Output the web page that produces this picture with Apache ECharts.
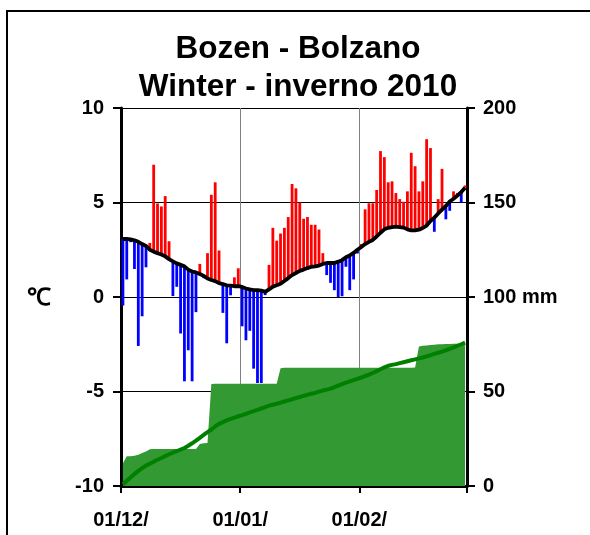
<!DOCTYPE html>
<html><head><meta charset="utf-8">
<script src="https://cdn.jsdelivr.net/npm/echarts@6/dist/echarts.min.js"></script>
<style>html,body{margin:0;padding:0;background:#fff}#c{width:590px;height:535px}</style>
</head><body><div id="c"></div>
<script>
// daily values, day 0 = 1 December 2009, 90 days to end of February 2010
const tempClimate = [
 3.07,3.07,3.05,3.0,2.92,2.8,2.7,2.5,2.4,2.32,
 2.25,2.15,2.0,1.88,1.78,1.7,1.62,1.45,1.35,1.3,
 1.22,1.12,0.98,0.9,0.84,0.73,0.68,0.62,0.6,0.57,
 0.57,0.53,0.45,0.4,0.36,0.36,0.34,0.27,0.4,0.55,
 0.62,0.7,0.85,1.0,1.16,1.27,1.38,1.45,1.53,1.6,
 1.62,1.66,1.75,1.8,1.8,1.8,1.87,1.95,2.1,2.2,
 2.33,2.5,2.65,2.8,2.92,3.02,3.2,3.4,3.58,3.66,
 3.7,3.72,3.7,3.67,3.58,3.52,3.52,3.56,3.65,3.78,
 4.02,4.2,4.42,4.62,4.82,5.05,5.2,5.37,5.55,5.78
];
const tempObserved = [
 -0.45,0.93,2.9,1.48,-2.59,-1.02,1.57,2.86,7.0,4.95,
 4.79,5.34,2.95,0.05,0.54,-1.93,-4.46,-2.82,-4.46,-0.8,
 1.75,1.0,2.32,5.41,6.07,2.46,-0.84,-2.45,0.09,1.04,
 1.52,-1.55,-2.29,-1.79,-3.79,-4.55,-4.55,0.1,1.7,3.66,
 2.98,3.36,3.66,4.23,5.98,5.75,5.0,4.14,4.23,3.82,
 3.82,3.57,2.32,1.16,0.75,0.36,0.0,0.04,1.6,0.36,
 0.93,2.3,2.8,4.64,4.96,4.96,5.66,7.72,7.4,6.07,
 6.12,5.5,5.18,5.04,5.59,7.63,6.92,5.59,6.12,8.35,
 7.88,3.45,5.18,6.78,4.11,4.56,5.59,5.5,5.0,5.9
];
const precipObserved = [
 12,15.7,15.8,16,16.5,17.5,18.2,19.5,19.6,19.6,
 19.6,19.6,19.6,19.6,19.6,19.6,19.6,19.6,19.6,19.6,
 22.2,22.6,22.8,54,54.1,54.1,54.1,54.1,54.1,54.1,
 54.1,54.1,54.1,54.1,54.1,54.1,54.1,54.1,54.1,54.1,
 54.1,62.3,62.6,62.6,62.6,62.6,62.6,62.6,62.6,62.6,
 62.6,62.6,62.6,62.6,62.6,62.6,62.6,62.6,62.6,62.6,
 62.6,62.6,62.6,62.6,62.6,62.6,62.6,62.6,62.6,62.6,
 62.6,62.6,62.6,62.6,62.6,62.6,62.7,73.8,74.2,74.4,
 74.6,74.8,75,75,75.1,75.1,75.2,75.2,75.3,75.3
];
const precipClimate = [
 0.8,2.8,4.5,6.3,8.0,9.5,10.8,11.8,12.8,13.9,
 14.8,15.8,16.8,17.6,18.4,19.3,20.1,21.3,22.6,24.0,
 25.5,27.0,28.5,29.9,31.5,32.9,33.8,34.7,35.5,36.2,
 36.9,37.5,38.2,38.9,39.6,40.3,41.0,41.7,42.5,43.0,
 43.5,44.1,44.7,45.3,45.9,46.5,47.1,47.7,48.3,48.8,
 49.3,49.9,50.5,51.0,51.5,52.3,53.1,53.9,54.7,55.4,
 56.0,56.7,57.4,58.2,58.9,59.8,60.8,61.8,62.8,63.6,
 64.1,64.5,65.0,65.5,66.0,66.5,67.0,67.5,68.0,68.6,
 69.2,69.9,70.5,71.1,71.8,72.5,73.3,74.2,75.0,75.9
];
const xTickDays = [0, 31, 62, 90];
const xTickLabels = ['01/12/', '01/01/', '01/02/', ''];
const tempAxis = {min: -10, max: 10, interval: 5};
const precipAxis = {min: 0, max: 200, interval: 50};

const FONT = '"Liberation Sans", Arial, sans-serif';
const chart = echarts.init(document.getElementById('c'), null, {renderer: 'canvas'});
const lbl = {fontFamily: FONT, fontWeight: 'bold', fontSize: 20, color: '#000'};

chart.setOption({
  animation: false,
  backgroundColor: '#fff',
  grid: {left: 121, right: 123, top: 108, bottom: 49, containLabel: false},
  xAxis: {
    type: 'value', min: 0, max: 90,
    axisLine: {onZero: false, lineStyle: {color: '#000', width: 3}},
    axisTick: {customValues: xTickDays, length: 7, lineStyle: {color: '#000', width: 2}},
    axisLabel: Object.assign({customValues: xTickDays.slice(0, 3), margin: 24,
      formatter: v => xTickLabels[xTickDays.indexOf(v)] || ''}, lbl),
    splitLine: {show: true, lineStyle: {color: '#808080', width: 1}}
  },
  yAxis: [
    {type: 'value', min: tempAxis.min, max: tempAxis.max, interval: tempAxis.interval, position: 'left',
     axisLine: {show: true, lineStyle: {color: '#000', width: 3}},
     axisTick: {show: true, length: 8, lineStyle: {color: '#000', width: 2}},
     axisLabel: Object.assign({margin: 17}, lbl),
     splitLine: {show: true, lineStyle: {color: '#000', width: 1}}},
    {type: 'value', min: precipAxis.min, max: precipAxis.max, interval: precipAxis.interval, position: 'right',
     axisLine: {show: true, lineStyle: {color: '#000', width: 3}},
     axisTick: {show: true, length: 8, lineStyle: {color: '#000', width: 2}},
     axisLabel: Object.assign({margin: 16, formatter: v => v === 100 ? '100 mm' : String(v)}, lbl),
     splitLine: {show: false}}
  ],
  series: [
    {type: 'line', yAxisIndex: 1, z: 1, symbol: 'none',
     data: precipObserved.map((v, d) => [d + 0.5, v]),
     lineStyle: {width: 0}, areaStyle: {color: '#339933', opacity: 1}},
    {type: 'line', yAxisIndex: 1, z: 2, symbol: 'none',
     data: precipClimate.map((v, d) => [d + 0.5, v]),
     lineStyle: {color: '#008000', width: 4}},
    {type: 'custom', yAxisIndex: 0, z: 3,
     data: tempObserved.map((t, d) => [d + 0.5, tempClimate[d], t]),
     encode: {x: 0, y: [1, 2]},
     renderItem: (params, api) => {
       const x = api.value(0), c = api.value(1), t = api.value(2);
       const a = api.coord([x, c]), b = api.coord([x, t]);
       const w = 2.8;
       return {type: 'rect',
         shape: {x: a[0] - w / 2, y: Math.min(a[1], b[1]), width: w, height: Math.max(Math.abs(a[1] - b[1]), 0.5)},
         style: {fill: t >= c ? '#ff0000' : '#0000ff'}};
     }},
    {type: 'line', yAxisIndex: 0, z: 4, symbol: 'none',
     data: tempClimate.map((v, d) => [d + 0.5, v]),
     lineStyle: {color: '#000', width: 3.8}}
  ],
  graphic: [
    {type: 'rect', silent: true, z: -10, shape: {x: 7, y: 11, width: 640, height: 640},
     style: {fill: 'none', stroke: '#000', lineWidth: 2}},
    {type: 'text', x: 298, y: 49, style: {text: 'Bozen - Bolzano', fontFamily: FONT, fontWeight: 'bold', fontSize: 31.5, fill: '#000', align: 'center', verticalAlign: 'middle'}},
    {type: 'text', x: 298, y: 87, style: {text: 'Winter - inverno 2010', fontFamily: FONT, fontWeight: 'bold', fontSize: 31.5, fill: '#000', align: 'center', verticalAlign: 'middle'}},
    {type: 'text', x: 39, y: 298, style: {text: '℃', fontFamily: FONT, fontWeight: 'bold', fontSize: 24, fill: '#000', align: 'center', verticalAlign: 'middle'}}
  ]
});
</script></body></html>
